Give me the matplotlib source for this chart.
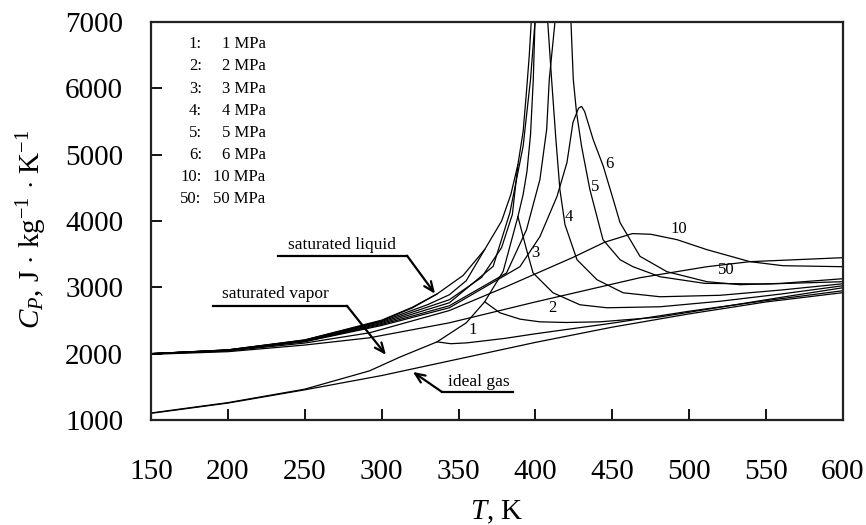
import matplotlib
matplotlib.use("Agg")
import matplotlib.pyplot as plt

plt.rcParams['font.family'] = ['Liberation Serif', 'DejaVu Serif']
plt.rcParams['mathtext.fontset'] = 'custom'
plt.rcParams['mathtext.rm'] = 'Liberation Serif'
plt.rcParams['mathtext.it'] = 'Liberation Serif:italic'

# ---------------- data (T in K, Cp in J/(kg K)) ----------------
sat_liq_T = [150, 200, 250, 300, 320, 336, 353, 367, 378, 384, 388.6, 392, 394, 396, 397.5, 399]
sat_liq_Cp = [1997, 2057, 2208, 2505, 2700, 2900, 3180, 3570, 4000, 4400, 4850, 5350, 5900, 6500, 7100, 8200]

sat_vap_T = [150, 200, 250, 292, 312, 336, 355, 367, 379, 388.6, 392, 394.5, 396.8, 398.6, 399.7, 400.5]
sat_vap_Cp = [1106, 1262, 1465, 1740, 1950, 2178, 2465, 2782, 3240, 4066, 4400, 4750, 5300, 6136, 7000, 8000]

ideal_T = [150, 200, 250, 300, 350, 400, 450, 500, 550, 600]
ideal_Cp = [1100, 1255, 1455, 1670, 1920, 2170, 2400, 2600, 2780, 2920]

p1_liq_T = [150, 200, 250, 300, 320, 336]
p1_liq_Cp = [2000, 2057, 2205, 2495, 2690, 2900]
p1_vap_T = [336, 345, 355.5, 380, 400, 450, 500, 550, 600]
p1_vap_Cp = [2178, 2150, 2163, 2230, 2300, 2460, 2640, 2800, 2949]

p2_liq_T = [150, 200, 250, 300, 330, 344, 355, 367]
p2_liq_Cp = [2000, 2055, 2200, 2485, 2740, 2888, 3100, 3570]
p2_vap_T = [367, 376.9, 390, 402.9, 420, 441.9, 480, 520, 560, 600]
p2_vap_Cp = [2782, 2616, 2520, 2480, 2470, 2480, 2550, 2700, 2850, 2994]

p3_liq_T = [150, 200, 250, 300, 344, 365, 378, 385, 388.6]
p3_liq_Cp = [2000, 2053, 2195, 2470, 2813, 3150, 3600, 4100, 4850]
p3_vap_T = [388.6, 394.2, 398.4, 400.7, 411.4, 428.9, 446.5, 481, 520, 560, 600]
p3_vap_Cp = [4066, 3568, 3220, 3165, 2918, 2737, 2692, 2707, 2790, 2900, 3024]

p4_T = [150, 200, 250, 300, 344, 372.5, 383.4, 392, 396.8, 399.7, 402, 404, 406, 408,
        410.5, 413.3, 415.9, 419.2, 427, 440, 457, 481, 520, 560, 600]
p4_Cp = [2000, 2052, 2190, 2455, 2767, 3316, 4127, 5129, 6136, 7000, 8500, 9500, 8500, 7000,
         6136, 5230, 4474, 3946, 3417, 3115, 2918, 2858, 2880, 2960, 3054]

p5_T = [150, 200, 250, 300, 344, 381.2, 394.2, 402.9, 407.3, 409, 412.7, 416, 418, 420.5,
        423.1, 424.6, 426.7, 430, 435.4, 443.9, 455, 463.4, 481, 510, 550, 600]
p5_Cp = [2000, 2050, 2185, 2440, 2722, 3216, 3870, 4625, 5381, 6136, 7000, 8500, 9000, 8300,
         7000, 6136, 5638, 5124, 4474, 3719, 3417, 3311, 3160, 3060, 3050, 3085]

p6_T = [150, 200, 250, 300, 344, 389.9, 402.9, 414, 420.5, 424.4, 428, 430, 432, 437.5,
        444.1, 450.6, 455, 468, 485.5, 511.5, 533, 560, 600]
p6_Cp = [2000, 2048, 2180, 2425, 2692, 3311, 3764, 4369, 4882, 5486, 5700, 5728, 5650, 5230,
         4826, 4323, 3976, 3467, 3236, 3085, 3040, 3060, 3130]

p10_T = [150, 200, 250, 292, 344, 380, 424, 445, 463, 475, 492, 511.5, 539.5, 561, 600]
p10_Cp = [1995, 2040, 2160, 2314, 2650, 3000, 3447, 3680, 3810, 3800, 3719, 3568, 3387, 3326, 3311]

p50_T = [150, 200, 250, 292, 344, 400, 468, 511.5, 539.5, 600]
p50_Cp = [1990, 2030, 2130, 2239, 2465, 2780, 3145, 3311, 3387, 3447]

legend_nums = ['1:', '2:', '3:', '4:', '5:', '6:', '10:', '50:']
legend_vals = ['1 MPa', '2 MPa', '3 MPa', '4 MPa', '5 MPa', '6 MPa', '10 MPa', '50 MPa']

curve_labels = ['1', '2', '3', '4', '5', '6', '10', '50']
curve_label_T = [359.4, 410.7, 399.7, 421.8, 438.7, 447.8, 493.3, 523.9]
curve_label_Cp = [2360, 2692, 3523, 4066, 4520, 4852, 3885, 3266]

x_ticks = [150, 200, 250, 300, 350, 400, 450, 500, 550, 600]
y_ticks = [1000, 2000, 3000, 4000, 5000, 6000, 7000]

# ---------------- figure ----------------
fig = plt.figure(figsize=(8.66, 5.25), dpi=100)
ax = fig.add_axes([151/866, 1-420/525, (843-151)/866, (420-22)/525])

curves = [(sat_liq_T, sat_liq_Cp), (sat_vap_T, sat_vap_Cp), (ideal_T, ideal_Cp),
          (p1_liq_T, p1_liq_Cp), (p1_vap_T, p1_vap_Cp),
          (p2_liq_T, p2_liq_Cp), (p2_vap_T, p2_vap_Cp),
          (p3_liq_T, p3_liq_Cp), (p3_vap_T, p3_vap_Cp),
          (p4_T, p4_Cp), (p5_T, p5_Cp), (p6_T, p6_Cp),
          (p10_T, p10_Cp), (p50_T, p50_Cp)]
for t, c in curves:
    ax.plot(t, c, color='black', lw=0.9)

ax.set_xlim(150, 600)
ax.set_ylim(1000, 7000)
ax.set_xticks(x_ticks)
ax.set_yticks(y_ticks)
ax.tick_params(axis='both', direction='in', length=8, width=1.3, labelsize=21,
               top=False, right=False)
ax.tick_params(axis='x', pad=28)
ax.tick_params(axis='y', pad=20)
for s in ax.spines.values():
    s.set_linewidth(1.6)
    s.set_color('#222222')

ax.set_xlabel(r'$T$, K', fontsize=21, labelpad=10)
ax.set_ylabel(r'$C_P$, J $\cdot$ kg$^{-1}$ $\cdot$ K$^{-1}$', fontsize=21)
ax.yaxis.set_label_coords(-0.148, 0.48)

# legend block
leg_Cp0, leg_step = 6665, -334
for i, (n, v) in enumerate(zip(legend_nums, legend_vals)):
    yv = leg_Cp0 + i * leg_step
    xn = 174.7 if len(n) == 2 else 168.9
    xv = 196.2 if len(n) == 2 else 190.3
    ax.text(xn, yv, n, fontsize=12, ha='left', va='center')
    ax.text(xv, yv, v, fontsize=12, ha='left', va='center')

for lab, t, c in zip(curve_labels, curve_label_T, curve_label_Cp):
    ax.text(t, c, lab, fontsize=12, ha='center', va='center')

# annotations with leader lines
arrow_kw = dict(arrowstyle='->,head_length=0.7,head_width=0.3', color='black', lw=1.6,
                shrinkA=0, shrinkB=0)

ax.text(274.2, 3644, 'saturated liquid', fontsize=12.5, ha='center', va='center')
ax.plot([232.6, 316.5], [3477, 3477], color='black', lw=1.6)
ax.annotate('', xy=(334.7, 2903), xytext=(316.5, 3477), arrowprops=arrow_kw)

ax.text(230.6, 2903, 'saturated vapor', fontsize=12.5, ha='center', va='center')
ax.plot([190.3, 277.4], [2722, 2722], color='black', lw=1.6)
ax.annotate('', xy=(302.8, 1982), xytext=(277.4, 2722), arrowprops=arrow_kw)

ax.text(363.3, 1574, 'ideal gas', fontsize=12.5, ha='center', va='center')
ax.plot([339.2, 385.4], [1423, 1423], color='black', lw=1.6)
ax.annotate('', xy=(320.3, 1725), xytext=(339.2, 1423), arrowprops=arrow_kw)

fig.savefig('out.png', dpi=100)
